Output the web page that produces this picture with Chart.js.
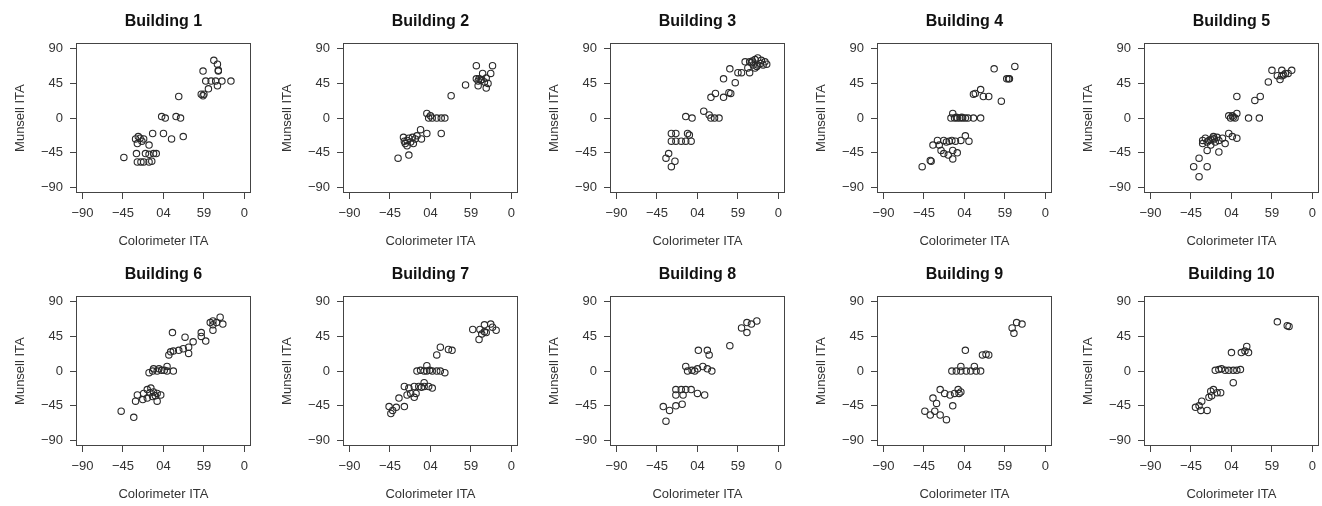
<!DOCTYPE html>
<html>
<head>
<meta charset="utf-8">
<script src="https://cdn.jsdelivr.net/npm/chart.js@4.4.1/dist/chart.umd.min.js"></script>
<style>
  body { margin: 0; background: #fff; width: 1322px; height: 506px; overflow: hidden; position: relative; }
  .panel { position: absolute; width: 256px; height: 253px; }
</style>
</head>
<body>
<script>
// tick values and labels as printed on the reference
const tickValues = [-90, -45, 0, 45, 90];
const xTickLabels = ['−90', '−45', '04', '59', '0'];
const yTickLabels = ['−90', '−45', '0', '45', '90'];

const titles = ['Building 1', 'Building 2', 'Building 3', 'Building 4', 'Building 5',
                'Building 6', 'Building 7', 'Building 8', 'Building 9', 'Building 10'];

// [colorimeter ITA, munsell ITA]
const building1 = [
  [56,75],[60,70],[61,62],[44,61],[61,61],[47,48],[53,48],[58,48],[65,48],[75,48],[60,42],[50,38],[42,31],[45,31],[44,29],[17,28],
  [-2,2],[2,0],[14,2],[19,0],[-12,-20],[0,-20],[9,-27],[22,-24],
  [-31,-27],[-26,-26],[-22,-27],[-16,-35],[-29,-33],[-44,-51],[-30,-46],[-20,-46],[-16,-47],[-8,-46],[-11,-46],
  [-29,-57],[-25,-57],[-16,-57],[-13,-56],[-22,-57],[-28,-24],[-24,-30]
];
const building2 = [
  [51,68],[69,68],[58,58],[67,58],[51,51],[54,51],[56,49],[53,48],[62,52],[53,42],[62,39],[64,45],[39,43],[23,29],[57,50],[60,47],
  [-4,6],[0,3],[2,0],[7,0],[12,0],[16,0],[-2,0],[12,-20],[-4,-20],[-11,-15],[-10,-27],[-15,-23],
  [-30,-25],[-26,-29],[-22,-31],[-28,-33],[-20,-25],[-17,-27],[-24,-26],[-24,-48],[-36,-52],[-26,-36],[-19,-33],[-29,-30]
];
const building3 = [
  [53,73],[58,73],[64,76],[67,78],[71,75],[75,73],[62,69],[67,69],[73,69],[56,65],[64,65],[58,59],[49,59],[45,59],
  [60,72],[70,71],[66,67],[61,74],[77,70],
  [36,64],[42,46],[29,51],[35,33],[37,32],[29,27],[20,32],[15,27],
  [7,9],[13,4],[15,0],[19,0],[24,0],[-13,2],[-6,0],
  [-29,-20],[-24,-20],[-11,-20],[-9,-22],[-29,-30],[-24,-30],[-18,-30],[-13,-30],[-7,-30],
  [-35,-52],[-32,-46],[-25,-56],[-29,-63]
];
const building4 = [
  [33,64],[56,67],[47,51],[50,51],[49,51],[41,22],[18,37],[12,32],[10,31],[21,28],[27,28],
  [-13,6],[-15,0],[-11,0],[-8,0],[-5,0],[-2,0],[1,0],[4,0],[10,0],[18,0],[-9,1],[-3,1],
  [-35,-35],[-30,-29],[-23,-29],[-17,-30],[-10,-30],[-4,-29],[1,-23],[5,-30],[-28,-35],[-20,-31],[-14,-29],
  [-26,-42],[-23,-46],[-18,-48],[-13,-53],[-8,-45],[-13,-42],[-37,-56],[-38,-55],[-47,-63]
];
const building5 = [
  [45,62],[56,62],[67,62],[60,58],[51,55],[56,55],[63,58],[41,47],[54,50],[58,56],
  [6,28],[26,23],[32,28],[-3,3],[1,3],[6,6],[-1,0],[4,0],[19,0],[31,0],[2,1],
  [-3,-20],[1,-24],[6,-26],[-32,-29],[-29,-26],[-25,-29],[-21,-26],[-18,-31],[-14,-29],[-10,-26],
  [-27,-31],[-23,-28],[-19,-27],[-16,-25],
  [-23,-35],[-7,-33],[-27,-42],[-14,-44],[-36,-52],[-42,-63],[-27,-63],[-36,-76],[-32,-33],[-20,-24]
];
const building6 = [
  [63,70],[55,65],[59,63],[52,63],[55,60],[66,61],[55,53],[42,50],[42,45],[47,39],[33,38],[28,31],[28,23],
  [22,29],[17,27],[11,26],[6,21],[8,25],[10,50],[24,44],
  [4,6],[11,0],[4,0],[-2,1],[-7,0],[-12,0],[-16,-2],[-11,3],[-5,3],[1,1],
  [-18,-24],[-14,-22],[-11,-27],[-7,-29],[-12,-33],[-22,-29],[-18,-35],[-3,-31],[-7,-39],[-15,-28],[-9,-32],
  [-29,-31],[-31,-39],[-23,-37],[-47,-52],[-33,-60]
];
const building7 = [
  [47,54],[55,54],[60,60],[67,61],[62,50],[57,48],[54,41],[73,53],[69,57],[60,51],
  [20,28],[24,27],[11,31],[7,21],
  [-4,7],[-15,0],[-11,1],[-7,0],[-4,0],[2,0],[7,0],[11,0],[16,-2],[-1,1],
  [-7,-15],[-29,-20],[-24,-22],[-18,-20],[-13,-20],[-7,-20],[-2,-20],[2,-22],[-10,-21],
  [-22,-29],[-16,-29],[-26,-31],[-18,-34],[-35,-35],[-29,-46],[-46,-46],[-42,-51],[-38,-47],[-44,-55]
];
const building8 = [
  [49,56],[55,63],[60,61],[66,65],[55,50],[36,33],[1,27],[11,27],[13,21],
  [-13,6],[-11,0],[-6,1],[0,3],[6,6],[11,3],[16,0],[-3,0],
  [-24,-24],[-18,-24],[-13,-24],[-7,-24],[-16,-31],[-24,-31],[0,-29],[8,-31],
  [-38,-46],[-31,-51],[-24,-45],[-17,-43],[-35,-65]
];
const building9 = [
  [53,56],[58,63],[64,61],[55,49],[1,27],[20,21],[27,21],[24,22],
  [-14,0],[-9,0],[-4,0],[2,0],[7,0],[13,0],[18,0],[-4,6],[11,6],
  [-27,-24],[-22,-29],[-16,-31],[-11,-29],[-7,-24],[-6,-29],[-4,-27],
  [-35,-35],[-31,-42],[-13,-45],[-44,-52],[-38,-57],[-33,-52],[-27,-57],[-20,-63]
];
const building10 = [
  [51,64],[62,59],[64,58],[17,32],[15,26],[19,24],[11,24],[0,24],[2,-15],
  [-18,1],[-14,2],[-11,3],[-7,1],[-3,1],[2,1],[6,1],[10,2],
  [-23,-26],[-20,-24],[-16,-28],[-12,-28],[-22,-32],[-25,-34],
  [-36,-45],[-33,-39],[-34,-51],[-27,-51],[-40,-47]
];

const buildings = [building1, building2, building3, building4, building5,
                   building6, building7, building8, building9, building10];

const panelLeft = [0, 267, 534, 801, 1068];
const FONT = '"Liberation Sans", Arial, Helvetica, sans-serif';
const INK = '#333';

// draws the full R-style box around the plotting region
const boxPlugin = {
  id: 'box',
  afterDraw(chart) {
    const a = chart.chartArea;
    const ctx = chart.ctx;
    ctx.save();
    ctx.strokeStyle = '#444';
    ctx.lineWidth = 1;
    ctx.strokeRect(Math.round(a.left) + 0.5, Math.round(a.top) + 0.5,
                   Math.round(a.right - a.left) - 1, Math.round(a.bottom - a.top) - 1);
    ctx.restore();
  }
};

buildings.forEach((pts, i) => {
  const div = document.createElement('div');
  div.className = 'panel';
  div.style.left = panelLeft[i % 5] + 'px';
  div.style.top = (Math.floor(i / 5) * 253) + 'px';
  const canvas = document.createElement('canvas');
  div.appendChild(canvas);
  document.body.appendChild(div);

  new Chart(canvas, {
    type: 'scatter',
    data: {
      datasets: [{
        data: pts.map(p => ({x: p[0], y: p[1]})),
        pointStyle: 'circle',
        pointRadius: 3.2,
        pointBorderWidth: 1.1,
        borderColor: '#2a2a2a',
        backgroundColor: 'rgba(0,0,0,0)'
      }]
    },
    options: {
      responsive: true,
      maintainAspectRatio: false,
      animation: false,
      events: [],
      layout: { padding: { left: 0, right: 2, top: 0, bottom: 0 } },
      plugins: {
        legend: { display: false },
        tooltip: { enabled: false },
        title: {
          display: true,
          text: titles[i],
          fullSize: false,
          color: '#111',
          font: { family: FONT, size: 16, weight: 'bold' },
          padding: { top: 12, bottom: 12 }
        }
      },
      scales: {
        x: {
          type: 'linear',
          min: -97.2,
          max: 97.2,
          afterBuildTicks: s => { s.ticks = tickValues.map(v => ({value: v})); },
          afterFit: s => { s.height = 60; },
          grid: { display: true, drawOnChartArea: false, drawTicks: true, tickLength: 6, color: '#444' },
          border: { display: false },
          ticks: {
            color: INK,
            font: { family: FONT, size: 13 },
            padding: 7,
            maxRotation: 0,
            autoSkip: false,
            callback: (v, idx) => xTickLabels[idx]
          },
          title: {
            display: true,
            text: 'Colorimeter ITA',
            color: INK,
            font: { family: FONT, size: 13 },
            padding: { top: 4, bottom: 4 }
          }
        },
        y: {
          type: 'linear',
          min: -97.2,
          max: 97.2,
          afterBuildTicks: s => { s.ticks = tickValues.map(v => ({value: v})); },
          afterFit: s => { s.width = 76; },
          grid: { display: true, drawOnChartArea: false, drawTicks: true, tickLength: 6, color: '#444' },
          border: { display: false },
          ticks: {
            color: INK,
            font: { family: FONT, size: 13 },
            padding: 7,
            autoSkip: false,
            callback: (v, idx) => yTickLabels[idx]
          },
          title: {
            display: true,
            text: 'Munsell ITA',
            color: INK,
            font: { family: FONT, size: 13 },
            padding: { top: 13, bottom: 4 }
          }
        }
      }
    },
    plugins: [boxPlugin]
  });
});
</script>
</body>
</html>
